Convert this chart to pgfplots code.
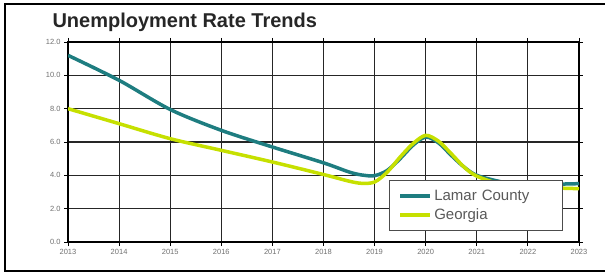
\documentclass[border=0pt]{standalone}
\usepackage{pgfplots}
\pgfplotsset{compat=1.18}
\usepackage{fontspec}
\setmainfont{Liberation Sans}
\definecolor{teal1}{HTML}{1E7D80}
\definecolor{lime1}{HTML}{C6E000}
\definecolor{tickgray}{HTML}{707070}
\begin{document}
\begin{tikzpicture}[x=1pt,y=1pt]
\useasboundingbox (0,0) rectangle (605,276);
\draw[line width=2pt] (605,272) -- (5,272) -- (5,5) -- (605,5);
\node[anchor=west,font=\fontsize{20}{22}\selectfont\bfseries,text=black!85] at (49,254) {Unemployment Rate Trends};
\begin{axis}[
  at={(68pt,34pt)}, anchor=south west,
  width=511pt, height=200pt, scale only axis,
  xmin=2013, xmax=2023, ymin=0, ymax=12,
  xtick={2013,...,2023}, ytick={0,2,...,12},
  xticklabel style={/pgf/number format/1000 sep={}},
  yticklabel style={/pgf/number format/fixed,/pgf/number format/fixed zerofill,/pgf/number format/precision=1},
  /pgf/number format/assume math mode=true,
  ticklabel style={font=\fontsize{7.5}{8}\selectfont, text=tickgray},
  tick align=outside, major tick length=4pt,
  tick style={black, line width=0.8pt},
  grid=major, major grid style={black!85, line width=1.1pt},
  axis line style={black, line width=1.1pt},
  legend style={at={(0.628,0.31)}, anchor=north west, draw=black!70, line width=0.8pt,
    font=\fontsize{15}{17}\selectfont, text=black!65, fill=white,
    inner xsep=9pt, inner ysep=8pt, row sep=2pt,
    nodes={text width=117pt}},
  legend image code/.code={\draw[#1, line width=4pt] (0pt,0pt) -- (30pt,0pt);},
  legend cell align=left,
]
\addplot[teal1, line width=3.5pt, smooth, tension=0.5] coordinates {
(2013,11.2) (2014,9.7) (2015,7.95) (2016,6.7) (2017,5.7) (2018,4.75) (2018.5,4.2) (2018.75,4.02) (2019,3.98) (2019.25,4.3) (2019.5,5.0) (2019.75,5.8) (2020,6.3) (2020.25,5.95) (2020.5,5.2) (2020.75,4.5) (2021,4.0) (2021.5,3.6) (2022,3.45) (2023,3.5)
};
\addlegendentry{Lamar County}
\addplot[lime1, line width=3.5pt, smooth, tension=0.5] coordinates {
(2013,8.0) (2014,7.1) (2015,6.2) (2016,5.5) (2017,4.8) (2018,4.05) (2018.5,3.65) (2018.75,3.52) (2019,3.6) (2019.25,4.2) (2019.5,5.1) (2019.75,5.9) (2020,6.4) (2020.25,6.05) (2020.5,5.3) (2020.75,4.5) (2021,3.95) (2021.5,3.45) (2022,3.3) (2023,3.2)
};
\addlegendentry{Georgia}
\end{axis}
\end{tikzpicture}
\end{document}
